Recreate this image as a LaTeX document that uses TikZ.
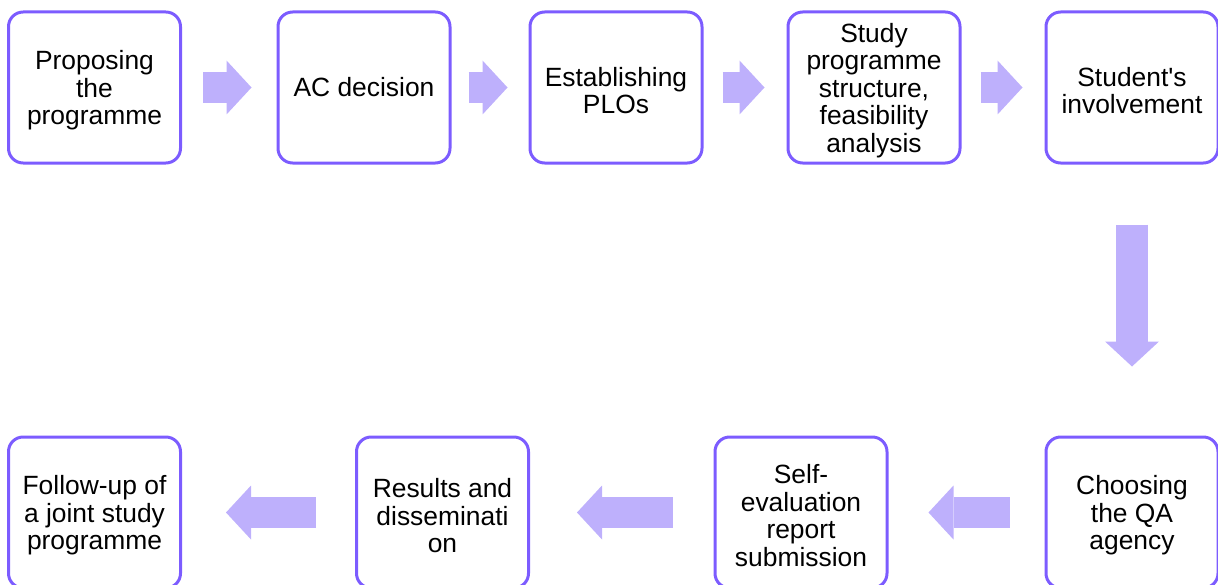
\documentclass[tikz,border=0pt]{standalone}
\usepackage{fontspec}
\setmainfont{Liberation Sans}[Ligatures=TeXOff]
\usetikzlibrary{arrows.meta, positioning}
\definecolor{boxline}{RGB}{124,92,255}
\definecolor{arrowfill}{RGB}{190,176,252}
\newcommand\topline{\rule{0pt}{19pt}}% first line as tall as the font ascent

\begin{document}
\begin{tikzpicture}[x=0.75pt, y=-0.75pt,
    stage/.style={draw=boxline, line width=2.25pt, rounded corners=11pt,
      minimum width=129pt, minimum height=113.25pt, inner sep=0pt,
      align=center, font=\fontsize{19.8}{20.6}\selectfont},
    fat/.style={draw=arrowfill, line width=23.25pt,
      -{Triangle[width=40.5pt, length=18.75pt, line width=0pt, color=arrowfill, fill=arrowfill]}}
  ]
  \useasboundingbox (0,0) rectangle (1218,585);

  % top row
  \node[stage] (propose) at (94.5,87.5) {\topline Proposing\\the\\programme};
  \node[stage] (acdec)   at (364,87.5)  {\raisebox{-0.75pt}{AC decision}};
  \node[stage] (plos)    at (616,87.5)  {\topline Establishing\\PLOs};
  \node[stage] (struct)  at (874,87.5)  {\topline Study\\programme\\structure,\\feasibility\\analysis};
  \node[stage] (student) at (1132,87.5) {\topline Student's\\involvement};

  % bottom row
  \node[stage] (agency)  at (1132,512.5) {\topline Choosing\\the QA\\agency};
  \node[stage] (selfev)  at (801,512.5)  {\topline Self-\\evaluation\\report\\submission};
  \node[stage] (results) at (442.5,512.5) {\topline Results and\\disseminati\\on};
  \node[stage] (follow)  at (94.5,512.5)  {\topline Follow-up of\\a joint study\\programme};

  \draw[fat, shorten <=15.75pt, shorten >=18.75pt] (propose) -- (acdec);
  \draw[fat, shorten <=12.75pt, shorten >=15.75pt] (acdec) -- (plos);
  \draw[fat, shorten <=14.25pt, shorten >=16.5pt] (plos) -- (struct);
  \draw[fat, shorten <=14.25pt, shorten >=16.5pt] (struct) -- (student);
  \draw[fat, line width=24pt, shorten <=45pt, shorten >=51.75pt] (student) -- (agency);
  \draw[fat, shorten <=26.25pt, shorten >=30pt] (agency) -- (selfev);
  \draw[fat, shorten <=30.75pt, shorten >=35.25pt] (selfev) -- (results);
  \draw[fat, shorten <=29.25pt, shorten >=33pt] (results) -- (follow);
\end{tikzpicture}
\end{document}
